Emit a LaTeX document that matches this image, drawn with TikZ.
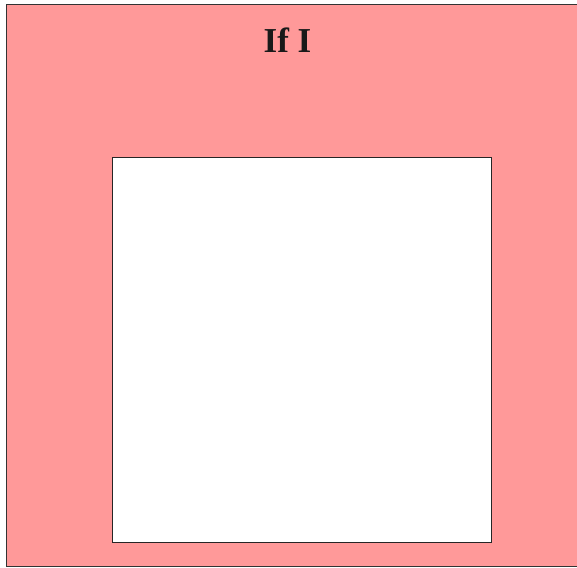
\documentclass[tikz,border=0pt]{standalone}
\usepackage{fontspec}
\setmainfont{Liberation Serif}
\usetikzlibrary{positioning}

\begin{document}
\begin{tikzpicture}[
    x=1pt, y=-1pt,
    frame/.style={rectangle, draw=black!80, line width=1pt, fill=red!40, minimum width=575pt, minimum height=561.5pt, inner sep=0pt},
    panel/.style={rectangle, draw=black!85, line width=1pt, fill=white, minimum width=379pt, minimum height=385pt, inner sep=0pt},
    title/.style={font=\bfseries\fontsize{35}{38}\selectfont, text=black!90, inner sep=0pt, anchor=base}
]
\useasboundingbox (0,0) rectangle (577,567);

% ============ OUTER FRAME ============
\node[frame] (outer) at (294, 285.25) {};

% ============ TITLE ============
\node[title] (heading) at (287.5, 53) {If I};

% ============ INNER PANEL ============
\node[panel] (inner) at (301.5, 349.5) {};

\end{tikzpicture}
\end{document}
